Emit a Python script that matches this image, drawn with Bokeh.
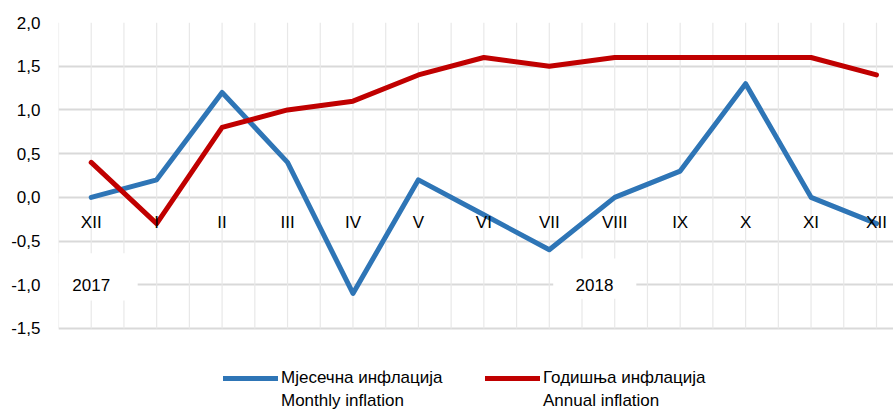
from bokeh.plotting import figure
from bokeh.models import (ColumnDataSource, Range1d, FixedTicker, Legend, LegendItem)
from bokeh.core.properties import value
from bokeh.embed import file_html
from bokeh.resources import INLINE

# ---- data ----
months = ["XII", "I", "II", "III", "IV", "V", "VI", "VII", "VIII", "IX", "X", "XI", "XII"]
monthly = [0.0, 0.2, 1.2, 0.4, -1.1, 0.2, -0.2, -0.6, 0.0, 0.3, 1.3, 0.0, -0.3]
annual = [0.4, -0.3, 0.8, 1.0, 1.1, 1.4, 1.6, 1.5, 1.6, 1.6, 1.6, 1.6, 1.4]
y_ticks = [-1.5, -1.0, -0.5, 0.0, 0.5, 1.0, 1.5, 2.0]
y_tick_labels = ["-1,5", "-1,0", "-0,5", "0,0", "0,5", "1,0", "1,5", "2,0"]
years = ["2017", "2018"]
year_pos = [0.0, 7.69]
month_label_y = -0.29
year_label_y = -1.0
year_box_left = [-0.5, 7.06]
year_box_right = [0.71, 8.33]
year_box_top = [-0.64, -0.70]
year_box_bottom = [-1.18, -1.16]
monthly_name = ["Мјесечна инфлација", "Monthly inflation"]
annual_name = ["Годишња инфлација", "Annual inflation"]

FONT = "Liberation Sans"
BLUE = "#2E75B6"
RED = "#C00000"

x = list(range(len(months)))
y_min, y_max = y_ticks[0], y_ticks[-1]
vgrid_x = [i * 0.5 - 0.5 for i in range(2 * len(months) + 1)]

p = figure(width=893, height=411, output_backend="svg", toolbar_location=None,
           x_range=Range1d(-0.5, 12.26), y_range=Range1d(-2.45, 2.0),
           x_axis_location=None, min_border_left=58, min_border_right=0,
           min_border_top=22, min_border_bottom=0)
p.outline_line_color = None
p.background_fill_color = "white"

p.yaxis.ticker = FixedTicker(ticks=y_ticks)
p.yaxis.major_label_overrides = {t: l for t, l in zip(y_ticks, y_tick_labels)}
p.yaxis.axis_line_color = None
p.yaxis.major_tick_line_color = None
p.yaxis.minor_tick_line_color = None
p.yaxis.major_tick_out = 0
p.yaxis.major_label_standoff = 18
p.yaxis.major_label_text_font = FONT
p.yaxis.major_label_text_font_size = "17px"
p.yaxis.major_label_text_color = "#000000"

p.ygrid.ticker = FixedTicker(ticks=y_ticks)
p.ygrid.grid_line_color = "#d9d9d9"
p.ygrid.grid_line_width = 2
p.xgrid.grid_line_color = None

# vertical grid lines only inside the value range
p.segment(x0=vgrid_x, y0=[y_min] * len(vgrid_x), x1=vgrid_x, y1=[y_max] * len(vgrid_x),
          line_color="#e8e8e8", line_width=1.2)

# year label boxes (white, hide gridlines)
p.quad(left=year_box_left, right=year_box_right, top=year_box_top, bottom=year_box_bottom,
       fill_color="white", line_color=None)

src = ColumnDataSource(dict(x=x, monthly=monthly, annual=annual, months=months,
                            my=[month_label_y] * len(months)))
r_blue = p.line("x", "monthly", source=src, line_color=BLUE, line_width=5,
                line_join="round", line_cap="round")
r_red = p.line("x", "annual", source=src, line_color=RED, line_width=5,
               line_join="round", line_cap="round")

p.text("x", "my", text="months", source=src, text_font=value(FONT),
       text_font_size="17px", text_align="center", text_baseline="middle",
       text_color="#000000")
p.text(x=year_pos, y=[year_label_y] * len(years), text=years, text_font=value(FONT),
       text_font_size="17px", text_align="center", text_baseline="middle",
       text_color="#000000")

# invisible renderer for second legend line
r_blank = p.line(x=[], y=[], line_alpha=0)


def add_legend(label, renderer, loc):
    lg = Legend(items=[LegendItem(label=label, renderers=[renderer])],
                location=loc, orientation="horizontal",
                label_text_font=FONT, label_text_font_size="17px",
                label_text_color="#000000", glyph_width=55, glyph_height=20,
                label_height=20, label_standoff=3, border_line_color=None,
                background_fill_alpha=0, margin=0, padding=0)
    p.add_layout(lg, "center")


add_legend(monthly_name[0], r_blue, (165, 23))
add_legend(monthly_name[1], r_blank, (165, 0))
add_legend(annual_name[0], r_red, (427, 23))
add_legend(annual_name[1], r_blank, (427, 0))

open("out.html", "w").write(file_html(p, INLINE))
